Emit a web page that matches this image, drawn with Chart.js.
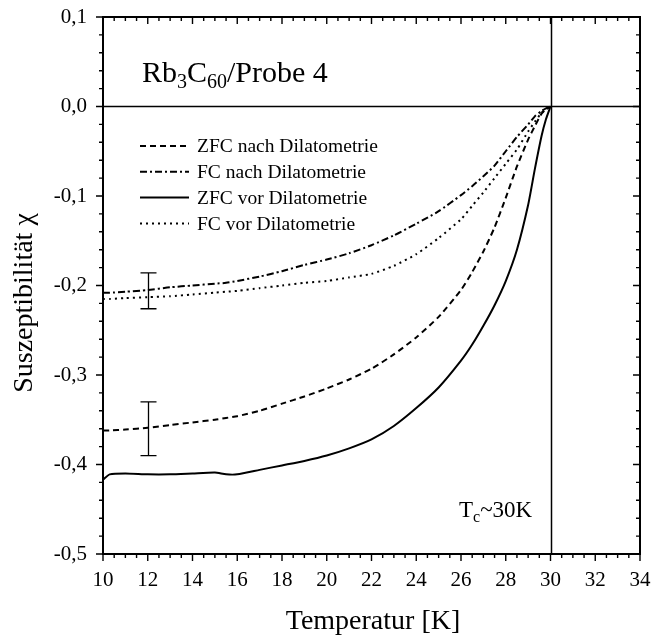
<!DOCTYPE html>
<html><head><meta charset="utf-8">
<script src="https://cdn.jsdelivr.net/npm/chart.js@4.4.0/dist/chart.umd.min.js"></script>
<style>html,body{margin:0;padding:0;background:#fff;}#wrap{width:652px;height:638px;}</style>
</head><body><div id="wrap"><canvas id="c" width="652" height="638"></canvas></div>
<script>
// ---- data ----
const temps   = [10, 10.3, 11, 12, 13, 14, 15, 15.5, 16, 17, 18, 19, 20, 21, 22, 23, 24, 25, 26, 26.5, 27, 27.5, 28, 28.5, 29, 29.3, 29.6, 29.8, 30];
const zfcNach = [-0.362,-0.362,-0.361,-0.359,-0.356,-0.353,-0.350,-0.348,-0.346,-0.340,-0.332,-0.324,-0.315,-0.305,-0.293,-0.277,-0.258,-0.235,-0.205,-0.185,-0.162,-0.135,-0.102,-0.067,-0.037,-0.022,-0.008,-0.003,0];
const fcNach  = [-0.208,-0.208,-0.207,-0.205,-0.202,-0.200,-0.198,-0.197,-0.195,-0.190,-0.184,-0.177,-0.171,-0.164,-0.155,-0.144,-0.131,-0.117,-0.099,-0.089,-0.078,-0.066,-0.050,-0.034,-0.020,-0.011,-0.005,-0.002,0];
const zfcVor  = [-0.417,-0.411,-0.410,-0.411,-0.411,-0.410,-0.409,-0.411,-0.411,-0.406,-0.401,-0.396,-0.390,-0.382,-0.372,-0.357,-0.337,-0.314,-0.284,-0.266,-0.245,-0.222,-0.195,-0.160,-0.110,-0.070,-0.033,-0.014,0];
const fcVor   = [-0.215,-0.215,-0.214,-0.213,-0.212,-0.210,-0.208,-0.207,-0.206,-0.203,-0.200,-0.197,-0.195,-0.191,-0.187,-0.178,-0.165,-0.147,-0.126,-0.111,-0.096,-0.080,-0.064,-0.048,-0.028,-0.017,-0.007,-0.003,0];
const seriesNames = ['ZFC nach Dilatometrie','FC nach Dilatometrie','ZFC vor Dilatometrie','FC vor Dilatometrie'];
const errT    = [12, 12];
const errLow  = [-0.226, -0.390];
const errHigh = [-0.186, -0.330];
const tcValue = 30;
const xTicks = [10,12,14,16,18,20,22,24,26,28,30,32,34];
const xTickLabels = ['10','12','14','16','18','20','22','24','26','28','30','32','34'];
const yTicks = [-0.5,-0.4,-0.3,-0.2,-0.1,0,0.1];
const yTickLabels = ['-0,5','-0,4','-0,3','-0,2','-0,1','0,0','0,1'];
const xMinorStep = 0.5, yMinorStep = 0.02;

const SERIF = '"Liberation Serif","DejaVu Serif",serif';
const dashes = [[6,4],[7,3,2,3],[],[2,4]];
const pts = arr => temps.map((t,i)=>({x:t,y:arr[i]}));

const decor = {
  id:'decor',
  beforeDatasetsDraw(chart){
    const {ctx, chartArea:a, scales:{x,y}} = chart;
    ctx.save();
    ctx.strokeStyle='#000'; ctx.lineWidth=1.5;
    const xp = Math.round(x.getPixelForValue(tcValue))+0.5;
    const yp = Math.round(y.getPixelForValue(0))+0.5;
    ctx.beginPath(); ctx.moveTo(xp,a.top); ctx.lineTo(xp,a.bottom);
    ctx.moveTo(a.left,yp); ctx.lineTo(a.right,yp); ctx.stroke();
    ctx.restore();
  },
  afterDatasetsDraw(chart){
    const {ctx, chartArea:a, scales:{x,y}} = chart;
    ctx.save();
    ctx.strokeStyle='#000'; ctx.fillStyle='#000';
    // frame
    ctx.lineWidth=2;
    ctx.strokeRect(a.left, a.top, a.right-a.left, a.bottom-a.top);
    // ticks
    ctx.lineWidth=1.4;
    ctx.beginPath();
    const isMajor = (v,list)=>list.some(t=>Math.abs(t-v)<1e-6);
    for(let v=x.min; v<=x.max+1e-9; v+=xMinorStep){
      const p = x.getPixelForValue(v); const L = isMajor(v,xTicks)?7:4;
      ctx.moveTo(p,a.bottom); ctx.lineTo(p,a.bottom+L);
      ctx.moveTo(p,a.top); ctx.lineTo(p,a.top+L);
    }
    for(let v=y.min; v<=y.max+1e-9; v+=yMinorStep){
      const p = y.getPixelForValue(v); const L = isMajor(v,yTicks)?7:4;
      ctx.moveTo(a.left,p); ctx.lineTo(a.left-L,p);
      ctx.moveTo(a.right,p); ctx.lineTo(a.right-L,p);
    }
    ctx.stroke();
    // error bars
    ctx.lineWidth=1.3;
    ctx.beginPath();
    errT.forEach((t,i)=>{
      const px = Math.round(x.getPixelForValue(t))+0.5;
      const p1 = y.getPixelForValue(errHigh[i]), p2 = y.getPixelForValue(errLow[i]);
      ctx.moveTo(px,p1); ctx.lineTo(px,p2);
      ctx.moveTo(px-8,p1); ctx.lineTo(px+8,p1);
      ctx.moveTo(px-8,p2); ctx.lineTo(px+8,p2);
    });
    ctx.stroke();
    // legend
    ctx.font = '19.5px '+SERIF; ctx.textBaseline='middle'; ctx.textAlign='left';
    chart.data.datasets.forEach((ds,i)=>{
      const yy = 146 + i*25.8;
      ctx.save(); ctx.lineWidth=2; ctx.setLineDash(ds.borderDash||[]);
      ctx.beginPath(); ctx.moveTo(140,yy); ctx.lineTo(189,yy); ctx.stroke(); ctx.restore();
      ctx.fillText(ds.label, 197, yy+1);
    });
    // title with subscripts
    ctx.textBaseline='alphabetic';
    let cx = 142; const by = 82;
    const parts = [['Rb',0],['3',1],['C',0],['60',1],['/Probe 4',0]];
    parts.forEach(([s,sub])=>{
      ctx.font = (sub?'20px ':'30px ')+SERIF;
      ctx.fillText(s, cx, by + (sub?6:0));
      cx += ctx.measureText(s).width;
    });
    // Tc label
    cx = 459; const ty = 517;
    [['T',0],['c',1],['~30K',0]].forEach(([s,sub])=>{
      ctx.font = (sub?'16px ':'23px ')+SERIF;
      ctx.fillText(s, cx, ty + (sub?5:0));
      cx += ctx.measureText(s).width;
    });
    // axis titles
    ctx.font = '28px '+SERIF; ctx.textAlign='center'; ctx.textBaseline='middle';
    ctx.fillText('Temperatur [K]', 373, 622);
    ctx.save(); ctx.translate(25, 303); ctx.rotate(-Math.PI/2);
    ctx.fillText('Suszeptibilität \u03c7', 0, 0); ctx.restore();
    ctx.restore();
  }
};

new Chart(document.getElementById('c'), {
  type:'line',
  data:{datasets:[
    {label:seriesNames[0], data:pts(zfcNach), borderDash:dashes[0]},
    {label:seriesNames[1], data:pts(fcNach),  borderDash:dashes[1]},
    {label:seriesNames[2], data:pts(zfcVor),  borderDash:dashes[2]},
    {label:seriesNames[3], data:pts(fcVor),   borderDash:dashes[3]}
  ].map(d=>Object.assign(d,{borderColor:'#000',borderWidth:2,pointRadius:0,tension:0.2,fill:false}))},
  options:{
    responsive:false, animation:false, devicePixelRatio:1,
    layout:{padding:{top:17,right:12,left:0,bottom:0}},
    plugins:{legend:{display:false},tooltip:{enabled:false}},
    scales:{
      x:{type:'linear',min:10,max:34,
        grid:{display:false,drawTicks:false}, border:{display:false},
        ticks:{stepSize:2,autoSkip:false,maxRotation:0,padding:14,color:'#000',font:{family:SERIF,size:21},
          callback:v=>{const i=xTicks.findIndex(t=>Math.abs(t-v)<1e-6);return i<0?'':xTickLabels[i];}},
        afterFit:s=>{s.height=84;s.paddingLeft=0;s.paddingRight=0;}},
      y:{type:'linear',min:-0.5,max:0.1,
        grid:{display:false,drawTicks:false}, border:{display:false},
        ticks:{stepSize:0.1,autoSkip:false,padding:16,color:'#000',font:{family:SERIF,size:21},
          callback:v=>{const i=yTicks.findIndex(t=>Math.abs(t-v)<1e-6);return i<0?'':yTickLabels[i];}},
        afterFit:s=>{s.width=103;s.paddingTop=0;s.paddingBottom=0;}}
    }
  },
  plugins:[decor]
});
</script></body></html>
